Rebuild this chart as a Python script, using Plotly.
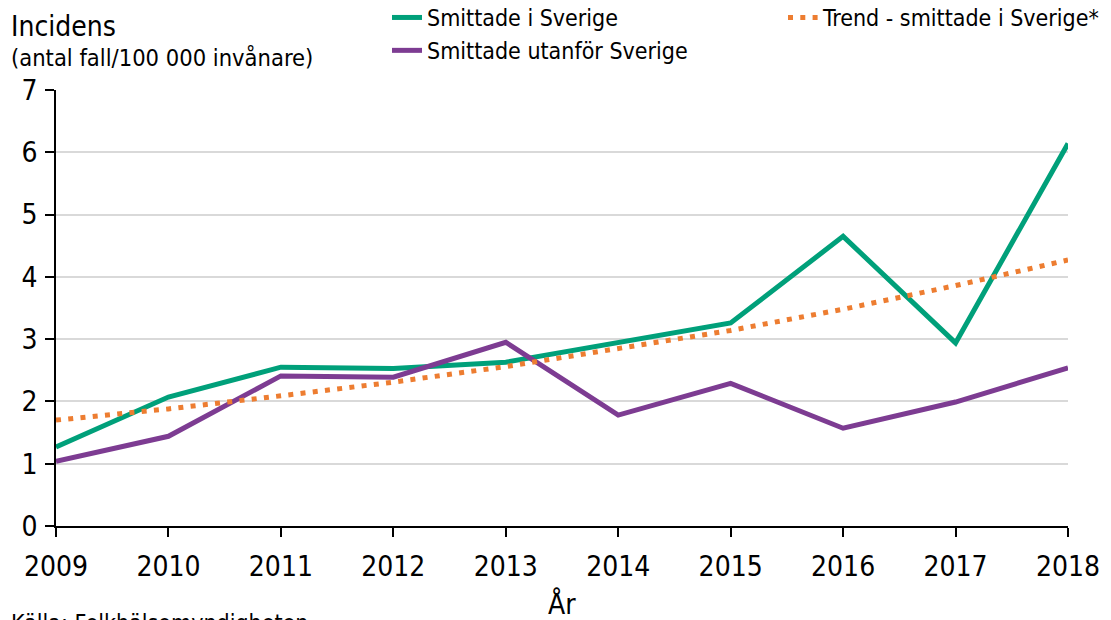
import plotly.graph_objects as go

years = [2009, 2010, 2011, 2012, 2013, 2014, 2015, 2016, 2017, 2018]
smittade_sverige = [1.27, 2.07, 2.55, 2.53, 2.63, 2.95, 3.26, 4.65, 2.94, 6.14]
smittade_utanfor = [1.04, 1.44, 2.41, 2.39, 2.95, 1.78, 2.29, 1.57, 1.99, 2.54]
trend_sverige = [1.70, 1.88, 2.09, 2.31, 2.56, 2.84, 3.14, 3.48, 3.86, 4.27]
y_ticks = [0, 1, 2, 3, 4, 5, 6, 7]

FONT = "Tahoma, 'DejaVu Sans Condensed', 'DejaVu Sans', sans-serif"
GREEN = "#00A07A"
PURPLE = "#7D3C92"
ORANGE = "#ED7D31"

W, H = 1111, 620
L, R, T, B = 56, 43, 90, 94

fig = go.Figure()
fig.add_trace(go.Scatter(x=years, y=smittade_sverige, mode="lines", name="Smittade i Sverige",
                         line=dict(color=GREEN, width=5), legend="legend"))
fig.add_trace(go.Scatter(x=years, y=smittade_utanfor, mode="lines", name="Smittade utanför Sverige",
                         line=dict(color=PURPLE, width=5), legend="legend"))
fig.add_trace(go.Scatter(x=years, y=trend_sverige, mode="lines", name="Trend - smittade i Sverige*",
                         line=dict(color=ORANGE, width=5, dash="5px,7.3px"), legend="legend2"))

# pixel -> paper coordinate (plot area spans x 56..1068, y 90..526)
def px_x(p):
    return (p - L) / (W - L - R)

def px_y(q):
    return (H - B - q) / (H - T - B)

fig.update_layout(
    width=W, height=H,
    margin=dict(l=L, r=R, t=T, b=B, autoexpand=False),
    paper_bgcolor="white", plot_bgcolor="white",
    font=dict(family=FONT, size=23, color="black"),
    showlegend=True,
    legend=dict(x=px_x(387), y=px_y(-4), xanchor="left", yanchor="top",
                font=dict(size=23), tracegroupgap=0, bgcolor="rgba(0,0,0,0)",
                borderwidth=0),
    legend2=dict(x=px_x(783), y=px_y(-4), xanchor="left", yanchor="top",
                 font=dict(size=23), bgcolor="rgba(0,0,0,0)", borderwidth=0),
    xaxis=dict(range=[2009, 2018], tickvals=years, ticktext=[str(y) for y in years],
               showgrid=False, showline=True, linecolor="black", linewidth=1.5,
               ticks="outside", ticklen=9, tickwidth=1.5, tickcolor="black",
               tickfont=dict(size=28), ticklabelstandoff=6, zeroline=False, automargin=False),
    yaxis=dict(range=[0, 7], tickvals=y_ticks, showgrid=True, gridcolor="#d9d9d9", gridwidth=1.5,
               showline=True, linecolor="black", linewidth=1.5,
               ticks="outside", ticklen=9, tickwidth=1.5, tickcolor="black",
               tickfont=dict(size=28), ticklabelstandoff=2, zeroline=False, automargin=False),
    annotations=[
        dict(text="Incidens", x=px_x(9), y=px_y(27), xref="paper", yref="paper",
             xanchor="left", yanchor="middle", showarrow=False, font=dict(size=28)),
        dict(text="(antal fall/100 000 invånare)", x=px_x(9), y=px_y(58), xref="paper", yref="paper",
             xanchor="left", yanchor="middle", showarrow=False, font=dict(size=23.5)),
        dict(text="År", x=px_x(562), y=px_y(604), xref="paper", yref="paper",
             xanchor="center", yanchor="middle", showarrow=False, font=dict(size=28)),
        dict(text="Källa: Folkhälsomyndigheten", x=px_x(9), y=px_y(623), xref="paper", yref="paper",
             xanchor="left", yanchor="middle", showarrow=False, font=dict(size=23)),
    ],
)

fig.write_html("out.html", config={"displayModeBar": False},
               post_script="document.body.style.margin='0';")
